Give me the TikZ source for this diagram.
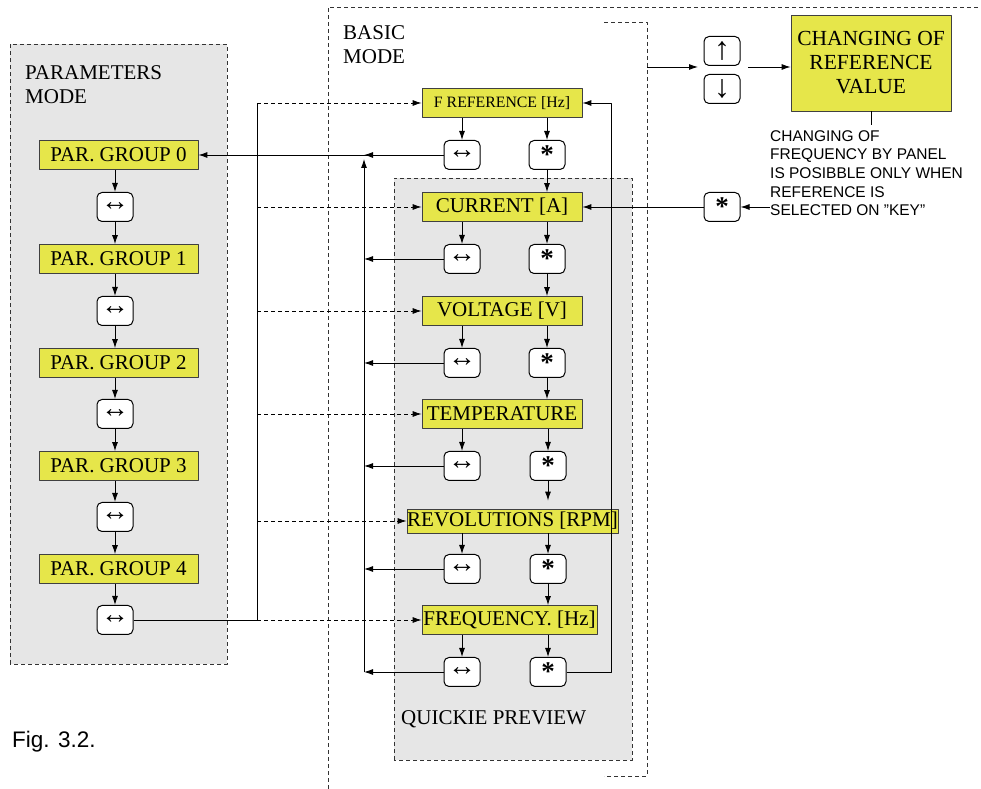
\documentclass[tikz,border=0pt]{standalone}
\usepackage{fontspec}
\setmainfont{Liberation Serif}
\newfontfamily\arialfont{Liberation Sans}
\usetikzlibrary{arrows.meta}
\definecolor{panelgray}{RGB}{230,230,230}
\definecolor{dispyellow}{RGB}{230,230,74}
\newcommand{\keylr}{{\fontsize{28bp}{28bp}\selectfont ↔}}
\newcommand{\keyast}{\raisebox{-0.32em}{\fontsize{27bp}{27bp}\selectfont\bfseries *}}
\tikzset{
  disp/.style={draw=black!75,fill=dispyellow,line width=0.8bp,inner sep=0bp,
    minimum width=160bp,minimum height=29bp,font=\fontsize{21bp}{24bp}\selectfont},
  keybox/.style={draw=black,fill=white,rounded corners=5bp,line width=1bp,
    minimum width=36bp,minimum height=29bp,inner sep=0bp},
  panelarea/.style={draw=black!80,fill=panelgray,dash pattern=on 4bp off 3bp,line width=0.8bp},
  modeframe/.style={black!80,dash pattern=on 4bp off 3bp,line width=0.8bp},
  label/.style={anchor=north west,align=left,inner sep=0bp,font=\fontsize{21bp}{24bp}\selectfont},
  feed/.style={black,dash pattern=on 4bp off 3bp,line width=0.8bp,->},
  conn/.style={black,line width=0.9bp,->},
}
\begin{document}
\begin{tikzpicture}[>={Latex[length=9bp,width=6bp]},line join=bevel,]
\useasboundingbox (0bp,0bp) rectangle (981bp,789bp);
%%
\draw [panelarea] (10bp,125bp) rectangle (227bp,745bp);
\draw [panelarea] (394bp,29bp) rectangle (632bp,611bp);
\draw [modeframe] (328bp,0bp) -- (328bp,782bp) -- (981bp,782bp);
\draw [modeframe] (604bp,767bp) -- (647bp,767bp) -- (647bp,13bp) -- (604bp,13bp);
%
\node (par_lbl) at (25bp,724bp) [label] {PARAMETERS\\MODE};
\node (bas_lbl) at (343bp,764bp) [label] {BASIC\\MODE};
\node (qp_lbl) at (401bp,64bp) [label,anchor=base west] {QUICKIE PREVIEW};
\node (fig_lbl) at (12bp,41bp) [anchor=base west,inner sep=0bp,font=\arialfont\fontsize{22.5bp}{26bp}\selectfont] {Fig. 3.2.};
%
\node (pg_0) at (118.5bp,634bp) [disp,minimum width=159bp] {PAR. GROUP 0};
  \node (pk_0) at (115bp,582bp) [keybox] {\keylr};
\node (pg_1) at (118.5bp,530bp) [disp,minimum width=159bp] {PAR. GROUP 1};
  \node (pk_1) at (115bp,478bp) [keybox] {\keylr};
\node (pg_2) at (118.5bp,426bp) [disp,minimum width=159bp] {PAR. GROUP 2};
  \node (pk_2) at (115bp,375bp) [keybox] {\keylr};
\node (pg_3) at (118.5bp,323bp) [disp,minimum width=159bp] {PAR. GROUP 3};
  \node (pk_3) at (115bp,272bp) [keybox] {\keylr};
\node (pg_4) at (118.5bp,220bp) [disp,minimum width=159bp] {PAR. GROUP 4};
  \node (pk_4) at (115bp,169bp) [keybox] {\keylr};
%
\node (fref) at (502bp,686bp) [disp,font=\fontsize{15.8bp}{18bp}\selectfont] {F REFERENCE [Hz]};
  \node (bl_1) at (462bp,634bp) [keybox] {\keylr};
  \node (ba_1) at (547bp,634bp) [keybox] {\keyast};
\node (cur) at (502bp,582bp) [disp] {CURRENT [A]};
  \node (bl_2) at (462bp,530bp) [keybox] {\keylr};
  \node (ba_2) at (547bp,530bp) [keybox] {\keyast};
\node (volt) at (502bp,478bp) [disp] {VOLTAGE [V]};
  \node (bl_3) at (462bp,426bp) [keybox] {\keylr};
  \node (ba_3) at (547bp,426bp) [keybox] {\keyast};
\node (temp) at (502bp,375bp) [disp] {TEMPERATURE};
  \node (bl_4) at (462bp,323bp) [keybox] {\keylr};
  \node (ba_4) at (548bp,323bp) [keybox] {\keyast};
\node (revs) at (512.5bp,268bp) [disp,minimum width=211bp,minimum height=24bp] {REVOLUTIONS [RPM]};
  \node (bl_5) at (462bp,220bp) [keybox] {\keylr};
  \node (ba_5) at (548bp,220bp) [keybox] {\keyast};
\node (freq) at (509.5bp,169bp) [disp,minimum width=175bp] {FREQUENCY. [Hz]};
  \node (bl_6) at (462bp,117bp) [keybox] {\keylr};
  \node (ba_6) at (548bp,117bp) [keybox] {\keyast};
%
\node (upk) at (722bp,738bp) [keybox] {{\fontsize{32bp}{32bp}\selectfont ↑}};
\node (dnk) at (722bp,700bp) [keybox] {{\fontsize{32bp}{32bp}\selectfont ↓}};
\node (chg) at (871bp,726bp) [disp,minimum height=96bp,align=center,font=\fontsize{21.5bp}{24bp}\selectfont] {CHANGING OF\\REFERENCE\\VALUE};
\node (note) at (770bp,659bp) [anchor=north west,align=left,inner sep=0bp,font=\arialfont\fontsize{15.5bp}{18.7bp}\selectfont] {CHANGING OF\\FREQUENCY BY PANEL\\IS POSIBBLE ONLY WHEN\\REFERENCE IS\\SELECTED ON ”KEY”};
\node (rk) at (722bp,582bp) [keybox] {\keyast};
%
\coordinate (col_b) at (364bp,117bp);
\coordinate (col_t) at (364bp,630bp);
\coordinate (ret_b) at (611bp,117bp);
\coordinate (ret_t) at (611bp,686bp);
\coordinate (feed_b) at (257bp,169bp);
\coordinate (feed_t) at (257bp,686bp);
\coordinate (brk_r) at (647bp,722bp);
\coordinate (keys_in) at (698bp,722bp);
\coordinate (keys_out) at (748bp,722bp);
\coordinate (note_tag) at (871bp,664bp);
%
\draw [conn] (pg_0.south -| pk_0) -- (pk_0);
\draw [conn] (pk_0) -- (pk_0 |- pg_1.north);
\draw [conn] (pg_1.south -| pk_1) -- (pk_1);
\draw [conn] (pk_1) -- (pk_1 |- pg_2.north);
\draw [conn] (pg_2.south -| pk_2) -- (pk_2);
\draw [conn] (pk_2) -- (pk_2 |- pg_3.north);
\draw [conn] (pg_3.south -| pk_3) -- (pk_3);
\draw [conn] (pk_3) -- (pk_3 |- pg_4.north);
\draw [conn] (pg_4.south -| pk_4) -- (pk_4);
%
\draw [conn] (fref.south -| bl_1) -- (bl_1);
\draw [conn] (fref.south -| ba_1) -- (ba_1);
\draw [conn] (ba_1) -- (ba_1 |- cur.north);
\draw [conn] (cur.south -| bl_2) -- (bl_2);
\draw [conn] (cur.south -| ba_2) -- (ba_2);
\draw [conn] (ba_2) -- (ba_2 |- volt.north);
\draw [conn] (volt.south -| bl_3) -- (bl_3);
\draw [conn] (volt.south -| ba_3) -- (ba_3);
\draw [conn] (ba_3) -- (ba_3 |- temp.north);
\draw [conn] (temp.south -| bl_4) -- (bl_4);
\draw [conn] (temp.south -| ba_4) -- (ba_4);
\draw [conn] (ba_4) -- ([yshift=8bp]ba_4 |- revs.north);
\draw [conn] (revs.south -| bl_5) -- (bl_5);
\draw [conn] (revs.south -| ba_5) -- (ba_5);
\draw [conn] (ba_5) -- (ba_5 |- freq.north);
\draw [conn] (freq.south -| bl_6) -- (bl_6);
\draw [conn] (freq.south -| ba_6) -- (ba_6);
%
\draw [conn] (bl_1) -- (pg_0);
\draw [conn] (bl_1) -- (bl_1 -| col_b);
\draw [conn] (bl_2) -- (bl_2 -| col_b);
\draw [conn] (bl_3) -- (bl_3 -| col_b);
\draw [conn] (bl_4) -- (bl_4 -| col_b);
\draw [conn] (bl_5) -- (bl_5 -| col_b);
\draw [conn] (bl_6) -- (col_b);
\draw [conn] (col_b) -- (col_t);
\draw [conn] (ba_6) -- (ret_b) -- (ret_t) -- (fref);
%
\draw [conn,-] (pk_4) -- (feed_b) -- (feed_t);
\draw [feed] (feed_t) -- (fref);
\draw [feed] (cur -| feed_b) -- (cur);
\draw [feed] (volt -| feed_b) -- (volt);
\draw [feed] (temp -| feed_b) -- (temp);
\draw [feed] (revs -| feed_b) -- (revs);
\draw [feed] (feed_b) -- (freq);
%
\draw [conn] (brk_r) -- (keys_in);
\draw [conn] (keys_out) -- (keys_out -| chg.west);
\draw [black,line width=0.9bp] (chg.south) -- (note_tag);
\draw [conn] (rk -| note.west) -- (rk);
\draw [conn] (rk) -- (cur);
%
\end{tikzpicture}
\end{document}
